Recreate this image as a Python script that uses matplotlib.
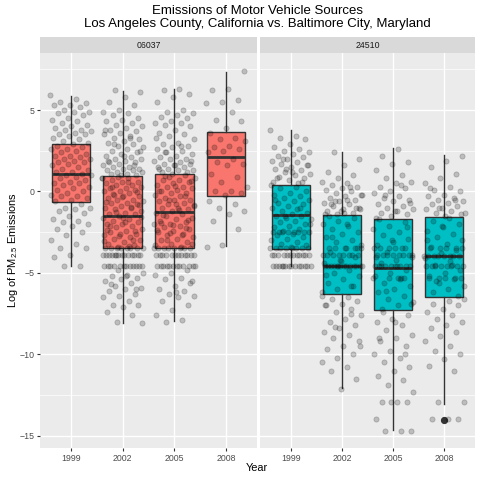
import matplotlib
matplotlib.use("Agg")
import matplotlib.pyplot as plt
import numpy as np

plt.rcParams["font.family"] = ["Liberation Sans", "DejaVu Sans"]
plt.rcParams["mathtext.fontset"] = "custom"
plt.rcParams["mathtext.rm"] = "Liberation Sans"
plt.rcParams["mathtext.it"] = "Liberation Sans"
plt.rcParams["mathtext.default"] = "rm"

years = ["1999", "2002", "2005", "2008"]
fips = ["06037", "24510"]
fills = ["#F8766D", "#00BFC4"]

# box stats: q1, median, q3, lower whisker, upper whisker
la_q1 = [-0.65, -3.50, -3.50, -0.27]
la_med = [1.06, -1.49, -1.29, 2.10]
la_q3 = [2.93, 0.92, 1.06, 3.66]
la_lo = [-4.60, -8.08, -7.96, -3.33]
la_hi = [5.85, 6.15, 6.26, 7.32]

bal_q1 = [-3.52, -6.30, -7.30, -6.50]
bal_med = [-1.47, -4.60, -4.68, -3.95]
bal_q3 = [0.41, -1.47, -1.68, -1.58]
bal_lo = [-4.60, -12.07, -14.66, -13.07]
bal_hi = [3.80, 2.45, 2.64, 2.21]
bal_out = [[], [], [], [-14.05]]

# jittered observations (approximate y values)
la_1999 = [5.9, 5.7, 5.5, 5.4, 5.3, 5.3, 5.2, 5.0, 4.9, 4.9, 4.8, 4.7, 4.5, 4.4, 4.3, 4.2,
           4.1, 4.0, 3.9, 3.8, 3.8, 3.7, 3.6, 3.5, 3.5, 3.4, 3.3, 3.2, 3.1, 3.0,
           2.9, 2.8, 2.7, 2.6, 2.6, 2.5, 2.4, 2.3, 2.2, 2.2, 2.1, 2.0, 2.0, 1.9, 1.8, 1.8,
           1.7, 1.6, 1.5, 1.4, 1.3, 1.2, 1.2, 1.1, 1.0, 1.0, 0.9, 0.8, 0.7, 0.6, 0.5, 0.5,
           0.4, 0.3, 0.2, 0.1, 0.0, -0.1, -0.2, -0.3, -0.3, -0.4, -0.5, -0.6,
           -0.8, -1.0, -1.0, -1.1, -1.2, -1.3, -1.5, -1.7, -1.8, -1.9, -2.0, -2.1, -2.3,
           -2.5, -2.7, -3.0, -3.2, -3.5, -3.5, -3.9, -4.0, -4.6, -4.6]

la_2002 = [6.2, 6.1, 5.8, 5.5, 5.3, 5.0, 4.9, 4.8, 4.7, 4.5, 4.4, 4.3, 4.2, 4.1, 4.0, 3.9,
           3.8, 3.7, 3.6, 3.5, 3.4, 3.3, 3.2, 3.1, 3.0, 2.9, 2.8, 2.7, 2.6, 2.5, 2.4, 2.3,
           2.2, 2.1, 2.0, 2.0, 1.9, 1.8, 1.8, 1.7, 1.6, 1.5, 1.5, 1.4, 1.4, 1.3, 1.3, 1.2,
           1.2, 1.1, 1.1, 1.0, 1.0, 3.8, 3.3, 2.9, 2.5, 2.2, 1.9, 1.6,
           0.9, 0.8, 0.8, 0.7, 0.6, 0.6, 0.5, 0.4, 0.4, 0.3, 0.2, 0.2, 0.1, 0.0, 0.0, -0.1,
           -0.2, -0.3, -0.3, -0.4, -0.5, -0.5, -0.6, -0.7, -0.7, -0.8, -0.9, -1.0, -1.0,
           -1.1, -1.2, -1.3, -1.4, -1.4, -1.5, -1.6, -1.7, -1.8, -1.9, -2.0, -2.0, -2.1,
           -2.2, -2.3, -2.4, -2.5, -2.6, -2.6, -2.7, -2.8, -2.9, -3.0, -3.1, -3.2, -3.3, -3.4,
           0.85, 0.55, 0.25, -0.05, -0.35, -0.65, -0.95, -1.25, -1.55, -1.85, -2.15, -2.45,
           -2.75, -3.05, -3.35, -0.15, -0.85, -1.65, -2.35, -2.95]
la_2002 += [-3.5] * 8 + [-3.9] * 14 + [-4.6] * 12
la_2002 += [-4.8, -5.0, -5.1, -5.2, -5.3, -5.4, -5.5, -5.6, -5.8, -5.9, -6.0, -6.1, -6.3,
            -6.4, -6.5, -6.7, -7.0, -7.0, -7.1, -7.4, -7.6, -8.0, -8.1, -5.2, -5.7, -6.0]

la_2005 = [6.3, 6.2, 6.0, 5.8, 5.5, 5.0, 4.9, 4.8, 4.7, 4.6, 4.5, 4.3, 4.2, 4.2, 4.1, 4.0,
           3.8, 3.6, 3.5, 3.4, 3.2, 3.0, 2.9, 2.8, 2.7, 2.6, 2.5, 2.4, 2.3, 2.2, 2.1, 2.0,
           2.0, 1.9, 1.8, 1.7, 1.7, 1.6, 1.5, 1.5, 1.4, 1.3, 1.3, 1.2, 1.2, 1.1,
           3.3, 2.8, 2.4, 1.9, 1.6, 1.4,
           1.0, 0.9, 0.8, 0.7, 0.7, 0.6, 0.5, 0.4, 0.3, 0.3, 0.2, 0.1, 0.0, -0.1, -0.1,
           -0.2, -0.3, -0.4, -0.5, -0.5, -0.6, -0.7, -0.8, -0.9, -1.0, -1.0, -1.1, -1.2,
           -1.3, -1.4, -1.5, -1.6, -1.7, -1.8, -1.9, -2.0, -2.0, -2.1, -2.2, -2.3, -2.4,
           -2.5, -2.6, -2.7, -2.8, -2.9, -3.0, -3.1, -3.2, -3.3, -3.4,
           0.95, 0.65, 0.35, 0.05, -0.25, -0.55, -0.85, -1.15, -1.45, -1.75, -2.05, -2.35,
           -2.65, -2.95, -3.25, -0.75, -1.95, -2.25, -2.55]
la_2005 += [-3.5] * 8 + [-3.9] * 12 + [-4.6] * 12
la_2005 += [-4.8, -5.0, -5.1, -5.3, -5.4, -5.6, -5.8, -6.0, -6.1, -6.3, -6.4, -6.5, -6.7,
            -7.0, -7.3, -7.6, -7.9, -8.0, -5.5, -6.2]

la_2008 = [7.4, 6.3, 6.2, 5.6, 5.5, 5.4, 4.9, 4.4, 4.3, 3.9, 3.6, 3.3, 3.2, 3.1, 2.8, 2.7,
           2.6, 2.5, 2.4, 2.0, 1.8, 1.7, 1.6, 1.1, 0.9, 0.6, 0.3, 0.0, 0.0, -0.1, -0.2,
           -0.6, -0.8, -1.0, -1.2, -1.4, -1.8, -2.3, -3.3, -3.4]

bal_1999 = [3.8, 3.4, 3.3, 3.2, 2.9, 2.7, 2.6, 2.5, 2.4, 2.3, 2.2, 2.1, 2.0, 1.9, 1.8, 1.7,
            1.6, 1.5, 1.4, 1.3, 1.2, 1.1, 1.0, 0.9, 0.8, 0.7, 0.6, 0.5, 2.0, 1.6, 1.2, 0.8,
            0.6, 1.4,
            0.4, 0.3, 0.2, 0.0, -0.1, -0.2, -0.3, -0.4, -0.5, -0.6, -0.7, -0.8, -0.9, -1.0,
            -1.1, -1.2, -1.3, -1.4, -1.5, -1.5, -1.6, -1.7, -1.8, -1.9, -2.0, -2.1, -2.2,
            -2.3, -2.4, -2.5, -2.6, -2.7, -2.8, -2.9, -3.0, -3.1, -3.2, -3.3, -3.4,
            -0.5, -1.0, -1.5, -2.0, -2.5]
bal_1999 += [-2.5] * 6 + [-3.5] * 8 + [-3.9] * 12 + [-4.6] * 14

bal_2002 = [2.4, 2.0, 1.6, 1.2, 1.0, 0.8, 0.6, 0.5, 0.4, 0.3, 0.2, 0.1, 0.0, -0.1, -0.2,
            -0.3, -0.4, -0.5, -0.6, -0.7, -0.8, -0.9, -1.0, -1.1, -1.2, -1.3, -1.4,
            -0.2, -0.5, -0.8, -1.0, -1.2, -1.4, 0.3, -0.6, -1.1, -1.3,
            -1.5, -1.6, -1.8, -2.0, -2.1, -2.3, -2.5, -2.6, -2.8, -3.0, -3.1, -3.3, -3.5,
            -3.7, -4.0, -4.2, -4.4, -4.8, -5.0, -5.2, -5.4, -5.6, -5.8, -6.0, -6.2,
            -2.0, -2.8, -3.5, -4.3, -5.1, -5.8]
bal_2002 += [-3.5] * 5 + [-3.9] * 8 + [-4.6] * 14
bal_2002 += [-6.4, -6.5, -6.6, -6.7, -6.9, -7.0, -7.2, -7.4, -7.6, -7.8, -8.0, -8.2, -8.4,
             -8.6, -8.8, -9.0, -9.2, -9.5, -9.7, -10.0, -10.2, -10.5, -10.8, -11.0, -11.5,
             -12.1, -7.0, -7.5, -8.3, -9.5]

bal_2005 = [2.6, 2.2, 1.8, 1.7, 1.3, 1.0, 0.8, 0.6, 0.5, 0.3, 0.2, 0.0, -0.1, -0.3, -0.4,
            -0.5, -0.6, -0.8, -0.9, -1.0, -1.1, -1.2, -1.3, -1.4, -1.5, -1.6,
            0.4, -0.2, -0.7, -1.2,
            -1.7, -1.9, -2.1, -2.3, -2.5, -2.7, -2.9, -3.1, -3.3, -3.5, -3.7, -4.0, -4.2,
            -4.4, -4.8, -5.0, -5.2, -5.4, -5.6, -5.8, -6.0, -6.2, -6.4, -6.6, -6.8, -7.0,
            -7.2, -2.2, -3.0, -4.0, -5.3, -6.1, -6.9]
bal_2005 += [-3.5] * 5 + [-3.9] * 8 + [-4.6] * 10 + [-5.3] * 4
bal_2005 += [-7.4, -7.6, -7.8, -8.0, -8.2, -8.5, -8.8, -9.0, -9.2, -9.5, -9.8, -10.0,
             -10.2, -10.5, -10.8, -11.0, -11.3, -11.6, -11.9, -12.3, -12.9, -12.9, -12.9,
             -12.9, -14.0, -14.7, -14.7, -14.7, -8.0, -9.0, -10.0]

bal_2008 = [2.2, 1.9, 1.5, 1.1, 0.8, 0.5, 0.3, 0.1, 0.0, -0.2, -0.3, -0.4, -0.5, -0.6,
            -0.7, -0.8, -0.9, -1.0, -1.1, -1.2, -1.3, -1.4, -1.5, 0.2, -0.5, -1.0, -1.3,
            -1.6, -1.8, -2.0, -2.2, -2.4, -2.6, -2.8, -3.0, -3.2, -3.4, -3.6, -3.8, -4.1,
            -4.3, -4.5, -4.8, -5.0, -5.2, -5.4, -5.6, -5.8, -6.0, -6.2, -6.4,
            -2.1, -3.0, -4.5, -5.5]
bal_2008 += [-3.5] * 5 + [-3.95] * 8 + [-4.6] * 8 + [-5.3] * 5
bal_2008 += [-6.6, -6.7, -6.9, -7.0, -7.2, -7.4, -7.6, -7.8, -8.0, -8.2, -8.4, -8.6, -8.9,
             -9.2, -9.5, -9.8, -10.0, -10.3, -10.7, -11.0, -12.9, -12.9, -14.0, -14.0, -14.0]

la_points = [la_1999, la_2002, la_2005, la_2008]
bal_points = [bal_1999, bal_2002, bal_2005, bal_2008]

W = 480.0


def px_box(x0, y0, x1, y1):
    return [x0 / W, 1 - y1 / W, (x1 - x0) / W, (y1 - y0) / W]


def style_panel(ax, show_y):
    ax.set_facecolor("#EBEBEB")
    for s in ax.spines.values():
        s.set_visible(False)
    ax.set_xlim(0.4, 4.6)
    ax.set_ylim(-15.75, 8.5)
    ax.set_yticks([-15, -10, -5, 0, 5])
    ax.set_yticks([-12.5, -7.5, -2.5, 2.5, 7.5], minor=True)
    ax.set_xticks([1, 2, 3, 4])
    ax.set_xticklabels(years)
    ax.grid(which="major", color="white", linewidth=1.0)
    ax.grid(which="minor", axis="y", color="white", linewidth=0.5)
    ax.set_axisbelow(True)
    ax.tick_params(which="major", length=2.5, width=0.8, color="#333333",
                   labelsize=6.3, labelcolor="#4D4D4D", pad=1.5)
    ax.tick_params(which="minor", length=0)
    if not show_y:
        ax.tick_params(axis="y", which="both", left=False, labelleft=False)


def draw_panel(ax, q1, med, q3, lo, hi, outs, pts, fill):
    stats = []
    for i in range(len(years)):
        stats.append({"q1": q1[i], "med": med[i], "q3": q3[i],
                      "whislo": lo[i], "whishi": hi[i],
                      "fliers": outs[i] if outs else []})
    ax.bxp(stats, positions=[1, 2, 3, 4], widths=0.75, showcaps=False,
           patch_artist=True, manage_ticks=False,
           boxprops=dict(facecolor=fill, edgecolor="#333333", linewidth=1.0),
           medianprops=dict(color="#333333", linewidth=2.0),
           whiskerprops=dict(color="#333333", linewidth=1.0),
           flierprops=dict(marker="o", markerfacecolor="#333333",
                           markeredgecolor="#333333", markersize=4.2),
           zorder=2)
    golden = 0.6180339887
    for i, ys in enumerate(pts):
        ys = np.array(ys)
        k = np.arange(len(ys))
        off = ((k * golden + 0.31 * i) % 1.0 - 0.5) * 0.8
        ax.scatter(i + 1 + off, ys, s=14, color="black", alpha=0.2,
                   edgecolors="black", linewidths=0.6, zorder=3)


def add_strip(fig, x0, x1, label):
    sax = fig.add_axes(px_box(x0, 37, x1, 53))
    sax.set_facecolor("#D9D9D9")
    for s in sax.spines.values():
        s.set_visible(False)
    sax.set_xticks([])
    sax.set_yticks([])
    sax.text(0.5, 0.5, label, ha="center", va="center", fontsize=6.3,
             color="#1A1A1A", transform=sax.transAxes)


def main():
    fig = plt.figure(figsize=(4.8, 4.8), dpi=100)
    fig.patch.set_facecolor("white")

    ax1 = fig.add_axes(px_box(40, 53, 257, 448))
    ax2 = fig.add_axes(px_box(260, 53, 475, 448))

    draw_panel(ax1, la_q1, la_med, la_q3, la_lo, la_hi, None, la_points, fills[0])
    draw_panel(ax2, bal_q1, bal_med, bal_q3, bal_lo, bal_hi, bal_out, bal_points, fills[1])
    style_panel(ax1, True)
    style_panel(ax2, False)

    add_strip(fig, 40, 257, fips[0])
    add_strip(fig, 260, 475, fips[1])

    fig.text(257 / W, 1 - 17.5 / W,
             "Emissions of Motor Vehicle Sources\nLos Angeles County, California vs. Baltimore City, Maryland",
             ha="center", va="center", fontsize=9.5, color="black", linespacing=1.2)
    fig.text(257 / W, 1 - 468 / W, "Year", ha="center", va="center", fontsize=7.9)
    fig.text(13 / W, 1 - 250 / W, "Log of PM$_{2.5}$ Emissions", ha="center",
             va="center", rotation=90, fontsize=7.9)

    fig.savefig("out.png", dpi=100)
    plt.close(fig)


if __name__ == "__main__":
    main()
